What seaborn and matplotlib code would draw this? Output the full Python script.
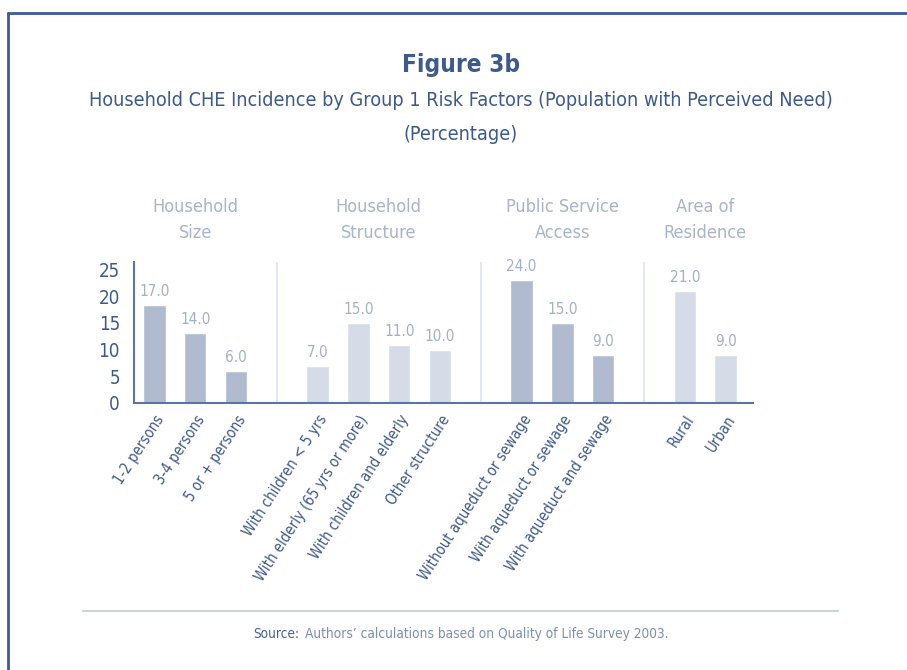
import pandas as pd
import matplotlib
matplotlib.use('Agg')
import matplotlib.pyplot as plt
import matplotlib.transforms as mtransforms
from matplotlib import font_manager
import seaborn as sns

# Data
categories = ['1-2 persons', '3-4 persons', '5 or + persons',
              'With children < 5 yrs', 'With elderly (65 yrs or more)',
              'With children and elderly', 'Other structure',
              'Without aqueduct or sewage', 'With aqueduct or sewage',
              'With aqueduct and sewage',
              'Rural', 'Urban']
groups = ['Household\nSize'] * 3 + ['Household\nStructure'] * 4 + \
         ['Public Service\nAccess'] * 3 + ['Area of\nResidence'] * 2
# bar heights as drawn, and the values printed above them
bar_heights = [18.3, 13.1, 5.9, 6.9, 15.0, 10.8, 9.9, 23.0, 15.0, 8.9, 20.9, 8.9]
printed_values = [17.0, 14.0, 6.0, 7.0, 15.0, 11.0, 10.0, 24.0, 15.0, 9.0, 21.0, 9.0]
y_ticks = [0, 5, 10, 15, 20, 25]

title = 'Figure 3b'
subtitle = 'Household CHE Incidence by Group 1 Risk Factors (Population with Perceived Need)'
subtitle2 = '(Percentage)'
source_lead = 'Source:'
source_text = 'Authors\u2019 calculations based on Quality of Life Survey 2003.'

# colours
dark_text = '#3d5a8e'
axis_col = '#5b74a3'
bar_dark = '#b0bbcf'
bar_light = '#d6dce7'
value_col = '#a3b1c8'
header_col = '#a7b4ca'
sep_col = '#e0e5ee'

# slot positions with an empty slot between groups
group_order = list(dict.fromkeys(groups))
slots = []
pos = 0
prev = groups[0]
for g in groups:
    if g != prev:
        pos += 1
        prev = g
    slots.append(pos)
    pos += 1
gap_slots = [s for s in range(max(slots) + 1) if s not in slots]

df = pd.DataFrame({'category': categories, 'group': groups, 'slot': slots,
                   'height': bar_heights, 'printed': printed_values})
df['shade'] = ['dark' if group_order.index(g) % 2 == 0 else 'light' for g in df['group']]

sns.set_style('white')

# pick a narrow font if one is installed (original uses a condensed face)
installed = {(f.name, f.stretch) for f in font_manager.fontManager.ttflist}
names = {n for n, _ in installed}
stretch = 'normal'
if 'Liberation Sans Narrow' in names:
    family = 'Liberation Sans Narrow'
elif ('DejaVu Sans', 'condensed') in installed or ('DejaVu Sans', 'semi-condensed') in installed:
    family = 'DejaVu Sans'
    stretch = 'condensed'
else:
    family = 'Liberation Sans'
plt.rcParams['font.family'] = [family, 'DejaVu Sans']
plt.rcParams['font.stretch'] = stretch

fig = plt.figure(figsize=(9.07, 6.70), dpi=100)
ax = fig.add_axes([134 / 907, 1 - 402.7 / 670, (753 - 134) / 907, (402.7 - 262) / 670])

sns.barplot(data=df, x='slot', y='height', hue='shade', native_scale=True,
            palette={'dark': bar_dark, 'light': bar_light}, dodge=False,
            width=0.55, legend=False, ax=ax, saturation=1, zorder=2)

ax.set_xlim(-0.5, max(slots) + 0.67)
ax.set_ylim(0, 26.4)

for s in gap_slots:
    ax.axvline(s, color=sep_col, lw=1.3, zorder=1)

for _, r in df.iterrows():
    ax.annotate(f"{r['printed']:.1f}", xy=(r['slot'], r['height']),
                xytext=(0, 4.5), textcoords='offset points',
                ha='center', va='bottom', fontsize=11, color=value_col)

# spines and ticks
for side in ['top', 'right']:
    ax.spines[side].set_visible(False)
for side in ['left', 'bottom']:
    ax.spines[side].set_color(axis_col)
    ax.spines[side].set_linewidth(1.5)

ax.set_yticks(y_ticks)
ax.set_yticklabels([str(t) for t in y_ticks], fontsize=13.5, color=dark_text)
ax.tick_params(axis='y', direction='out', length=6, width=1.5, color=axis_col, pad=4)

ax.set_xticks(slots)
ax.set_xticklabels(categories, rotation=57, ha='right', va='top',
                   rotation_mode='anchor', fontsize=13, color=dark_text)
ax.tick_params(axis='x', which='major', length=0, pad=7)
ax.set_xticks([s - 0.5 for s in range(max(slots) + 2)], minor=True)
ax.tick_params(axis='x', which='minor', direction='out', length=6, width=1.5, color=axis_col)
ax.set_xlabel('')
ax.set_ylabel('')

# group headers
trans = mtransforms.blended_transform_factory(ax.transData, fig.transFigure)
for g in group_order:
    centre = df.loc[df['group'] == g, 'slot'].mean()
    ax.text(centre, 1 - 220 / 670, g, transform=trans, ha='center', va='center',
            fontsize=13, color=header_col, linespacing=1.55)

# titles
fig.text(461 / 907, 1 - 65 / 670, title, ha='center', va='center',
         fontsize=17.5, fontweight='bold', color=dark_text)
sub = fig.text(461 / 907, 1 - 101 / 670, subtitle, ha='center', va='center',
               fontsize=16.5, color=dark_text)
sub2 = fig.text(461 / 907, 1 - 134 / 670, subtitle2, ha='center', va='center',
                fontsize=16.5, color=dark_text)

# source line and note
fig.add_artist(plt.Line2D([83 / 907, 838 / 907], [1 - 611 / 670, 1 - 611 / 670],
                          color='#cbd3e0', lw=1.5))
lead = fig.text(253 / 907, 1 - 634 / 670, source_lead, ha='left', va='center',
                fontsize=12.5, color='#4a6392')
rest = ax.annotate(source_text, xy=(1, 0.5), xycoords=lead, xytext=(4, 0),
                   textcoords='offset points', ha='left', va='center',
                   fontsize=12.5, color='#7e90b0', annotation_clip=False)

# fit the wide texts to the widths they take in the original
fig.canvas.draw()
renderer = fig.canvas.get_renderer()
w = sub.get_window_extent(renderer).width
if w > 742:
    k = 742 / w
    sub.set_fontsize(16.5 * k)
    sub2.set_fontsize(16.5 * k)
w_src = rest.get_window_extent(renderer).x1 - lead.get_window_extent(renderer).x0
if w_src > 414:
    k = 414 / w_src
    lead.set_fontsize(12.5 * k)
    rest.set_fontsize(12.5 * k)
# longest rotated label is about 194 px long in the original
probe = fig.text(0, 0, max(categories, key=len), fontsize=13)
w_lab = probe.get_window_extent(renderer).width
probe.remove()
if w_lab > 194:
    k = 194 / w_lab
    for t in ax.get_xticklabels():
        t.set_fontsize(13 * k)

# page frame: top and left rules
fig.add_artist(plt.Line2D([8 / 907, 1], [1 - 12.5 / 670, 1 - 12.5 / 670],
                          color='#3a5a9a', lw=2))
fig.add_artist(plt.Line2D([8 / 907, 8 / 907], [0, 1 - 12.5 / 670],
                          color='#3a5a9a', lw=2))

fig.savefig('out.png', dpi=100)
